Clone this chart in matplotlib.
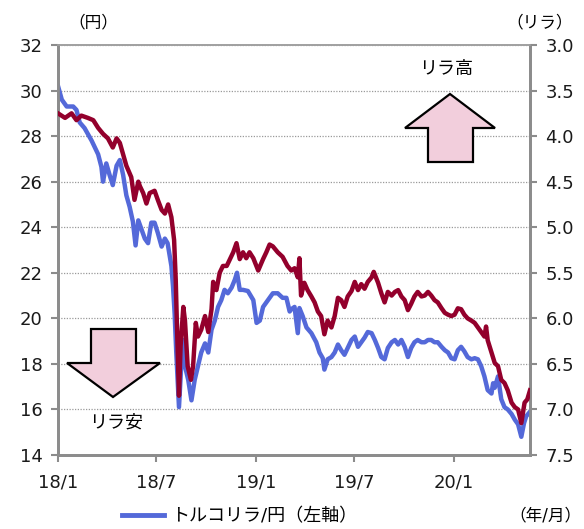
import numpy as np
import pandas as pd
import matplotlib
matplotlib.use('Agg')
import matplotlib.pyplot as plt
import matplotlib.dates as mdates
from matplotlib.patches import Polygon
from matplotlib.lines import Line2D

plt.rcParams['font.family'] = ['DejaVu Sans', 'Noto Sans CJK JP']

# トルコリラ/円 (left axis)
jpy_dates = [
    '2018-01-01', '2018-01-08', '2018-01-17', '2018-01-29', '2018-02-04', '2018-02-10',
    '2018-02-19', '2018-02-25', '2018-03-04', '2018-03-10', '2018-03-16', '2018-03-22',
    '2018-03-25', '2018-03-31', '2018-04-06', '2018-04-12', '2018-04-19', '2018-04-25',
    '2018-05-01', '2018-05-07', '2018-05-13', '2018-05-19', '2018-05-24', '2018-05-29',
    '2018-06-04', '2018-06-10', '2018-06-16', '2018-06-22', '2018-06-28', '2018-07-04',
    '2018-07-11', '2018-07-17', '2018-07-22', '2018-07-29', '2018-08-01', '2018-08-04',
    '2018-08-07', '2018-08-10', '2018-08-12', '2018-08-17', '2018-08-20', '2018-08-23',
    '2018-08-29', '2018-09-04', '2018-09-10', '2018-09-16', '2018-09-22', '2018-09-29',
    '2018-10-05', '2018-10-11', '2018-10-17', '2018-10-23', '2018-10-29', '2018-11-04',
    '2018-11-10', '2018-11-17', '2018-11-23', '2018-11-27', '2018-12-02', '2018-12-08',
    '2018-12-17', '2018-12-27', '2019-01-02', '2019-01-08', '2019-01-14', '2019-01-23',
    '2019-02-01', '2019-02-10', '2019-02-19', '2019-02-26', '2019-03-04', '2019-03-07',
    '2019-03-13', '2019-03-19', '2019-03-22', '2019-03-28', '2019-04-04', '2019-04-13',
    '2019-04-22', '2019-04-28', '2019-05-04', '2019-05-07', '2019-05-13', '2019-05-20',
    '2019-05-26', '2019-06-01', '2019-06-07', '2019-06-13', '2019-06-19', '2019-06-26',
    '2019-07-02', '2019-07-08', '2019-07-14', '2019-07-20', '2019-07-26', '2019-08-02',
    '2019-08-08', '2019-08-14', '2019-08-20', '2019-08-26', '2019-09-01', '2019-09-08',
    '2019-09-14', '2019-09-20', '2019-09-26', '2019-10-02', '2019-10-08', '2019-10-14',
    '2019-10-20', '2019-10-26', '2019-11-02', '2019-11-08', '2019-11-14', '2019-11-20',
    '2019-11-26', '2019-12-02', '2019-12-09', '2019-12-15', '2019-12-21', '2019-12-27',
    '2020-01-02', '2020-01-08', '2020-01-14', '2020-01-20', '2020-01-26', '2020-02-02',
    '2020-02-08', '2020-02-14', '2020-02-20', '2020-02-26', '2020-03-03', '2020-03-10',
    '2020-03-13', '2020-03-16', '2020-03-22', '2020-03-28', '2020-04-03', '2020-04-09',
    '2020-04-16', '2020-04-22', '2020-04-28', '2020-05-04', '2020-05-09', '2020-05-13',
    '2020-05-20',
]
jpy_vals = [
    30.2, 29.6, 29.3, 29.3, 29.15, 28.6,
    28.35, 28.1, 27.8, 27.5, 27.2, 26.65,
    26.0, 26.8, 26.3, 25.85, 26.7, 26.95,
    26.3, 25.4, 24.9, 24.25, 23.2, 24.3,
    23.9, 23.5, 23.3, 24.2, 24.2, 23.75,
    23.15, 23.5, 23.3, 22.3, 21.4, 20.2,
    18.5, 17.0, 16.1, 18.3, 19.05, 17.9,
    17.3, 16.4, 17.3, 17.9, 18.5, 18.9,
    18.5, 19.5, 19.9, 20.5, 20.8, 21.25,
    21.1, 21.35, 21.7, 22.0, 21.25, 21.25,
    21.2, 20.8, 19.8, 19.9, 20.5, 20.8,
    21.1, 21.1, 20.9, 20.9, 20.3, 20.4,
    20.5, 19.35, 20.45, 20.1, 19.6, 19.35,
    18.95, 18.5, 18.25, 17.75, 18.2, 18.3,
    18.5, 18.85, 18.6, 18.4, 18.7, 19.05,
    19.2, 18.75, 18.95, 19.15, 19.4, 19.35,
    19.05, 18.7, 18.3, 18.2, 18.7, 18.95,
    19.05, 18.85, 19.05, 18.75, 18.3, 18.7,
    18.95, 19.05, 18.95, 18.95, 19.05, 19.05,
    18.95, 18.95, 18.75, 18.6, 18.5, 18.25,
    18.2, 18.6, 18.75, 18.55, 18.3, 18.2,
    18.25, 18.2, 17.9, 17.45, 16.85, 16.7,
    17.15, 16.95, 17.45, 16.45, 16.1, 16.0,
    15.8, 15.55, 15.35, 14.8, 15.4, 15.7,
    15.9,
]

# ドル/リラ (right axis, inverted)
try_dates = [
    '2018-01-01', '2018-01-14', '2018-01-26', '2018-02-04', '2018-02-13', '2018-02-25',
    '2018-03-07', '2018-03-16', '2018-03-25', '2018-04-03', '2018-04-12', '2018-04-19',
    '2018-04-25', '2018-05-01', '2018-05-07', '2018-05-16', '2018-05-22', '2018-05-29',
    '2018-06-01', '2018-06-07', '2018-06-13', '2018-06-19', '2018-06-28', '2018-07-04',
    '2018-07-11', '2018-07-17', '2018-07-23', '2018-07-29', '2018-08-03', '2018-08-06',
    '2018-08-08', '2018-08-12', '2018-08-15', '2018-08-20', '2018-08-23', '2018-08-28',
    '2018-09-03', '2018-09-07', '2018-09-12', '2018-09-16', '2018-09-22', '2018-09-29',
    '2018-10-05', '2018-10-11', '2018-10-14', '2018-10-20', '2018-10-26', '2018-11-01',
    '2018-11-08', '2018-11-14', '2018-11-20', '2018-11-26', '2018-12-02', '2018-12-08',
    '2018-12-14', '2018-12-20', '2018-12-27', '2019-01-05', '2019-01-14', '2019-01-20',
    '2019-01-26', '2019-02-01', '2019-02-10', '2019-02-19', '2019-02-28', '2019-03-07',
    '2019-03-13', '2019-03-19', '2019-03-22', '2019-03-25', '2019-03-31', '2019-04-06',
    '2019-04-13', '2019-04-19', '2019-04-25', '2019-05-01', '2019-05-07', '2019-05-13',
    '2019-05-20', '2019-05-26', '2019-06-01', '2019-06-07', '2019-06-13', '2019-06-19',
    '2019-06-26', '2019-07-02', '2019-07-08', '2019-07-14', '2019-07-20', '2019-07-26',
    '2019-08-02', '2019-08-06', '2019-08-14', '2019-08-20', '2019-08-26', '2019-09-01',
    '2019-09-08', '2019-09-14', '2019-09-20', '2019-09-26', '2019-10-02', '2019-10-08',
    '2019-10-14', '2019-10-20', '2019-10-26', '2019-11-02', '2019-11-08', '2019-11-14',
    '2019-11-20', '2019-11-26', '2019-12-02', '2019-12-09', '2019-12-15', '2019-12-21',
    '2019-12-27', '2020-01-02', '2020-01-08', '2020-01-14', '2020-01-20', '2020-01-26',
    '2020-02-02', '2020-02-08', '2020-02-14', '2020-02-20', '2020-02-26', '2020-02-29',
    '2020-03-03', '2020-03-10', '2020-03-16', '2020-03-22', '2020-03-28', '2020-04-03',
    '2020-04-09', '2020-04-16', '2020-04-22', '2020-04-28', '2020-05-04', '2020-05-07',
    '2020-05-10', '2020-05-15', '2020-05-20',
]
try_vals = [
    3.75, 3.80, 3.75, 3.825, 3.775, 3.80,
    3.825, 3.91, 3.975, 4.025, 4.125, 4.025,
    4.075, 4.20, 4.325, 4.45, 4.70, 4.50,
    4.55, 4.625, 4.74, 4.625, 4.60, 4.70,
    4.81, 4.85, 4.75, 4.89, 5.14, 5.575,
    6.025, 6.85, 6.30, 5.875, 6.025, 6.525,
    6.675, 6.525, 6.05, 6.20, 6.125, 5.975,
    6.15, 5.90, 5.60, 5.69, 5.50, 5.425,
    5.425, 5.35, 5.275, 5.175, 5.35, 5.275,
    5.34, 5.275, 5.34, 5.475, 5.35, 5.275,
    5.19, 5.21, 5.275, 5.325, 5.425, 5.475,
    5.45, 5.55, 5.34, 5.75, 5.61, 5.69,
    5.76, 5.825, 5.925, 5.975, 6.175, 6.025,
    6.10, 5.975, 5.775, 5.80, 5.875, 5.76,
    5.70, 5.60, 5.69, 5.625, 5.675, 5.60,
    5.55, 5.49, 5.61, 5.725, 5.825, 5.71,
    5.75, 5.71, 5.69, 5.76, 5.80, 5.91,
    5.84, 5.76, 5.71, 5.76, 5.75, 5.71,
    5.75, 5.80, 5.825, 5.89, 5.94, 5.96,
    5.975, 5.96, 5.89, 5.90, 5.96, 6.00,
    6.025, 6.05, 6.10, 6.15, 6.20, 6.09,
    6.24, 6.375, 6.49, 6.525, 6.675, 6.71,
    6.79, 6.925, 6.975, 7.00, 7.15, 7.04,
    6.925, 6.89, 6.79,
]

left_ticks = [14, 16, 18, 20, 22, 24, 26, 28, 30, 32]
right_ticks = [3.0, 3.5, 4.0, 4.5, 5.0, 5.5, 6.0, 6.5, 7.0, 7.5]
x_ticks = ['2018-01-01', '2018-07-01', '2019-01-01', '2019-07-01', '2020-01-01']
x_labels = ['18/1', '18/7', '19/1', '19/7', '20/1']

BLUE = '#5469d9'
RED = '#93002c'
GREY = '#8c8c8c'
PINK = '#f2cedc'

W, H = 584, 529
fig = plt.figure(figsize=(W / 100, H / 100), dpi=100)
ax = fig.add_axes([58 / W, 1 - 455 / H, 472 / W, 410 / H])
ax2 = ax.twinx()

ax.plot(pd.to_datetime(jpy_dates), jpy_vals, color=BLUE, lw=3.2,
        solid_joinstyle='round', zorder=3)
ax2.plot(pd.to_datetime(try_dates), try_vals, color=RED, lw=3.2,
         solid_joinstyle='round', zorder=3)

ax.set_xlim(pd.Timestamp('2018-01-01'), pd.Timestamp('2020-05-20'))
ax.set_ylim(14, 32)
ax2.set_ylim(7.5, 3.0)

ax.set_yticks(left_ticks)
ax.set_yticklabels([str(v) for v in left_ticks])
ax2.set_yticks(right_ticks)
ax2.set_yticklabels(['%.1f' % v for v in right_ticks])
ax.set_xticks(pd.to_datetime(x_ticks))
ax.set_xticklabels(x_labels)

for a in (ax, ax2):
    a.tick_params(axis='both', direction='out', length=5, width=1.5,
                  color=GREY, labelsize=13, labelcolor='#1a1a1a')
    for side in ('left', 'right', 'bottom'):
        a.spines[side].set_color(GREY)
        a.spines[side].set_linewidth(2)
    a.spines['top'].set_color('#a0a0a0')
    a.spines['top'].set_linewidth(1.2)
ax.tick_params(axis='x', pad=8)
ax.tick_params(axis='y', pad=6)
ax2.tick_params(axis='y', pad=6)

ax.yaxis.grid(True, color='#9a9a9a', linestyle=(0, (1, 1.2)), linewidth=0.9)
ax.set_axisbelow(True)

# unit labels
fig.text(93 / W, 1 - 22 / H, '（円）', ha='center', va='center', fontsize=12)
fig.text(540 / W, 1 - 22 / H, '（リラ）', ha='center', va='center', fontsize=12)
fig.text(545 / W, 1 - 515 / H, '（年/月）', ha='center', va='center', fontsize=12)

# block arrows
up_arrow = [(450, 94), (495, 128), (473, 128), (473, 162), (428, 162), (428, 128), (405, 128)]
down_arrow = [(91, 329), (136, 329), (136, 363), (160, 363), (113, 397), (67, 363), (91, 363)]
for pts in (up_arrow, down_arrow):
    poly = Polygon([(x / W, 1 - y / H) for x, y in pts], closed=True,
                   facecolor=PINK, edgecolor='black', linewidth=1.6,
                   transform=fig.transFigure, zorder=5)
    fig.add_artist(poly)
fig.text(446 / W, 1 - 69 / H, 'リラ高', ha='center', va='center', fontsize=13)
fig.text(116 / W, 1 - 423 / H, 'リラ安', ha='center', va='center', fontsize=13)

# legend
handle = Line2D([], [], color=BLUE, lw=3.5)
fig.legend([handle], ['トルコリラ/円（左軸）'], loc='center left',
           bbox_to_anchor=(122 / W, 1 - 516 / H), frameon=False, fontsize=13,
           handlelength=2.3, handletextpad=0.4, borderpad=0, borderaxespad=0)

fig.savefig('out.png', dpi=100)
